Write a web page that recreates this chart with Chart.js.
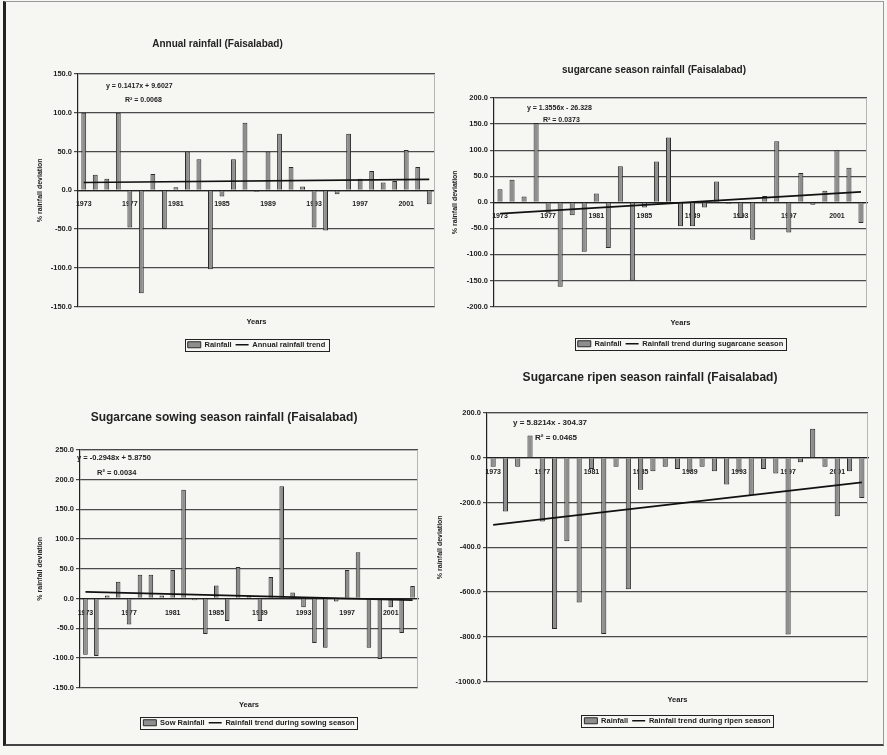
<!DOCTYPE html>
<html>
<head>
<meta charset="utf-8">
<title>Rainfall deviation, Faisalabad</title>
<script src="https://cdn.jsdelivr.net/npm/chart.js@4.4.1/dist/chart.umd.min.js"></script>
<style>
  html, body { margin: 0; padding: 0; background: #f6f6f3; overflow: hidden; }
  #page { position: relative; width: 887px; height: 755px; overflow: hidden; background: #f6f6f3; }
  #frame { position: absolute; left: 3px; top: 1px; width: 877px; height: 742px;
           border: 1px solid #999; border-left: 3px solid #222; border-bottom: 2px solid #444; }
  canvas { position: absolute; }
</style>
</head>
<body>
<div id="page">
  <div id="frame"></div>
  <canvas id="annual" width="435" height="332" style="left:0px;top:28px"></canvas>
  <canvas id="cane" width="442" height="308" style="left:441px;top:52px"></canvas>
  <canvas id="sowing" width="472" height="340" style="left:30px;top:400px"></canvas>
  <canvas id="ripen" width="486" height="380" style="left:432px;top:360px"></canvas>
</div>
<script>
const years = ['1973', '1974', '1975', '1976', '1977', '1978', '1979', '1980', '1981', '1982',
               '1983', '1984', '1985', '1986', '1987', '1988', '1989', '1990', '1991', '1992',
               '1993', '1994', '1995', '1996', '1997', '1998', '1999', '2000', '2001', '2002', '2003'];
const yearTicks = ['1973', '1977', '1981', '1985', '1989', '1993', '1997', '2001'];

// % rainfall deviation
const annualRain = [100, 20, 15, 100, -48, -133, 21, -50, 4, 50,
                    40, -102, -8, 40, 87, -2, 50, 73, 30, 5,
                    -48, -52, -5, 73, 15, 25, 10, 12, 52, 30, -18];
const caneRain = [25, 43, 11, 152, -20, -162, -25, -95, 17, -88,
                  69, -150, -10, 78, 124, -46, -46, -10, 40, -3,
                  -30, -72, 12, 117, -58, 56, -5, 22, 100, 66, -40];
const sowRain = [-95, -97, 5, 28, -44, 40, 40, 5, 48, 183,
                 -3, -60, 22, -38, 53, 5, -38, 36, 189, 10,
                 -15, -75, -83, -5, 48, 78, -83, -102, -15, -58, 21];
const ripenRain = [-40, -240, -40, 100, -285, -765, -373, -647, -50, -788,
                   -40, -588, -143, -60, -40, -50, -60, -40, -60, -120,
                   -60, -165, -50, -70, -790, -20, 130, -40, -262, -60, -180];

// linear trend lines: value at the first and the last year
const annualTrend = [10, 14];
const caneTrend = [-22, 20];
const sowTrend = [11, -3];
const ripenTrend = [-300, -110];

Chart.defaults.font.family = '"Liberation Sans", Arial, sans-serif';
Chart.defaults.font.weight = 'bold';
Chart.defaults.color = '#222';
Chart.defaults.animation = false;

function trendPoints(ends) {
  return years.map((y, i) => i === 0 ? ends[0] : (i === years.length - 1 ? ends[1] : null));
}

// light top/right edge of the plot area
const plotFrame = {
  id: 'plotFrame',
  beforeDatasetsDraw(chart) {
    const a = chart.chartArea, ctx = chart.ctx;
    ctx.save();
    ctx.strokeStyle = '#b5b5b5';
    ctx.lineWidth = 1;
    ctx.beginPath();
    ctx.moveTo(a.left, a.top + 0.5);
    ctx.lineTo(a.right - 0.5, a.top + 0.5);
    ctx.lineTo(a.right - 0.5, a.bottom);
    ctx.stroke();
    ctx.restore();
  }
};

// trend equation text
const trendNote = {
  id: 'trendNote',
  afterDatasetsDraw(chart, args, opts) {
    const a = chart.chartArea, ctx = chart.ctx;
    ctx.save();
    ctx.font = 'bold ' + opts.size + 'px "Liberation Sans", Arial, sans-serif';
    ctx.fillStyle = '#222';
    ctx.textBaseline = 'middle';
    opts.lines.forEach(l => ctx.fillText(l.text, a.left + l.dx, a.top + l.dy));
    ctx.restore();
  }
};

// box round the legend items
const legendFrame = {
  id: 'legendFrame',
  afterDraw(chart) {
    const hb = chart.legend.legendHitBoxes;
    if (!hb || !hb.length) return;
    const last = hb[hb.length - 1];
    const x0 = hb[0].left - 3, x1 = last.left + last.width + 3;
    const y0 = hb[0].top - 2, y1 = hb[0].top + hb[0].height + 2;
    const ctx = chart.ctx;
    ctx.save();
    ctx.strokeStyle = '#222';
    ctx.lineWidth = 1;
    ctx.strokeRect(Math.round(x0) + 0.5, Math.round(y0) + 0.5, Math.round(x1 - x0), Math.round(y1 - y0));
    ctx.restore();
  }
};

function rainChart(id, s) {
  return new Chart(document.getElementById(id), {
    data: {
      labels: years,
      datasets: [
        {
          type: 'bar', label: s.barLabel, data: s.rain,
          backgroundColor: '#8e8e8e', borderColor: '#2a2a2a', borderWidth: 1,
          barPercentage: 0.42, categoryPercentage: 1, pointStyle: 'rect', order: 2
        },
        {
          type: 'line', label: s.trendLabel, data: trendPoints(s.trend),
          borderColor: '#111', borderWidth: 1.7, pointRadius: 0, spanGaps: true,
          pointStyle: 'line', order: 1
        }
      ]
    },
    options: {
      responsive: false,
      layout: { padding: { left: 0, top: 0, right: s.padRight, bottom: s.padBottom } },
      plugins: {
        title: {
          display: true, text: s.title, font: { size: s.titleSize }, color: '#222',
          padding: { top: s.titleTop, bottom: s.titleBottom }
        },
        subtitle: {
          display: true, text: 'Years', position: 'bottom', fullSize: false, weight: 1,
          font: { size: 7.5, weight: 'bold' }, color: '#222',
          padding: { top: s.yearsTop, bottom: s.yearsBottom }
        },
        legend: {
          position: 'bottom', fullSize: false,
          labels: {
            usePointStyle: true, pointStyleWidth: 13, boxHeight: 6,
            font: { size: 7.5 }, color: '#222', padding: 4,
            sort: (a, b) => a.datasetIndex - b.datasetIndex
          }
        },
        tooltip: { enabled: false },
        trendNote: { size: s.noteSize, lines: s.note }
      },
      scales: {
        x: {
          position: { y: 0 },
          grid: { display: false },
          border: { color: '#222', width: 1.2 },
          ticks: {
            autoSkip: false, maxRotation: 0, font: { size: 7 }, color: '#222', padding: 2,
            callback: (v, i) => yearTicks.includes(years[i]) ? years[i] : ''
          }
        },
        y: {
          min: s.min, max: s.max,
          afterFit: sc => { sc.width = s.yWidth; },
          grid: { color: '#4a4a4a', lineWidth: 1.2, tickLength: 4 },
          border: { color: '#222', width: 1.2 },
          ticks: { stepSize: s.step, font: { size: 7.5 }, color: '#222', padding: 2, callback: v => v.toFixed(1) },
          title: {
            display: true, text: '% rainfall deviation', font: { size: 7 }, color: '#222',
            padding: { top: s.yTitlePad, bottom: 0 }
          }
        }
      }
    },
    plugins: [plotFrame, trendNote, legendFrame]
  });
}

rainChart('annual', {
  title: 'Annual rainfall (Faisalabad)', titleSize: 10, titleTop: 10, titleBottom: 24,
  rain: annualRain, trend: annualTrend,
  barLabel: 'Rainfall', trendLabel: 'Annual rainfall trend',
  min: -150, max: 150, step: 50,
  padRight: 0, padBottom: 1.5, yWidth: 78, yTitlePad: 36,
  yearsTop: 10.5, yearsBottom: 11,
  noteSize: 7, note: [{ text: 'y = 0.1417x + 9.6027', dx: 28, dy: 12 }, { text: 'R² = 0.0068', dx: 47, dy: 26 }]
});

rainChart('cane', {
  title: 'sugarcane season rainfall (Faisalabad)', titleSize: 10, titleTop: 12, titleBottom: 22,
  rain: caneRain, trend: caneTrend,
  barLabel: 'Rainfall', trendLabel: 'Rainfall trend during sugarcane season',
  min: -200, max: 200, step: 50,
  padRight: 16, padBottom: 2.5, yWidth: 53, yTitlePad: 10,
  yearsTop: 11.5, yearsBottom: 9,
  noteSize: 7, note: [{ text: 'y = 1.3556x - 26.328', dx: 33, dy: 10 }, { text: 'R² = 0.0373', dx: 49, dy: 22 }]
});

rainChart('sowing', {
  title: 'Sugarcane sowing season rainfall (Faisalabad)', titleSize: 12, titleTop: 10.8, titleBottom: 24.8,
  rain: sowRain, trend: sowTrend,
  barLabel: 'Sow Rainfall', trendLabel: 'Rainfall trend during sowing season',
  min: -150, max: 250, step: 50,
  padRight: 84, padBottom: 3.5, yWidth: 50, yTitlePad: 5.8,
  yearsTop: 12.5, yearsBottom: 6,
  noteSize: 7.5, note: [{ text: 'y = -0.2948x + 5.8750', dx: -3, dy: 8 }, { text: 'R² = 0.0034', dx: 17, dy: 23 }]
});

rainChart('ripen', {
  title: 'Sugarcane ripen season rainfall (Faisalabad)', titleSize: 12, titleTop: 10.8, titleBottom: 27.8,
  rain: ripenRain, trend: ripenTrend,
  barLabel: 'Rainfall', trendLabel: 'Rainfall trend during ripen season',
  min: -1000, max: 200, step: 200,
  padRight: 50, padBottom: 5.5, yWidth: 55, yTitlePad: 3.8,
  yearsTop: 13.5, yearsBottom: 9,
  noteSize: 8, note: [{ text: 'y = 5.8214x - 304.37', dx: 26, dy: 10 }, { text: 'R² = 0.0465', dx: 48, dy: 25 }]
});
</script>
</body>
</html>
